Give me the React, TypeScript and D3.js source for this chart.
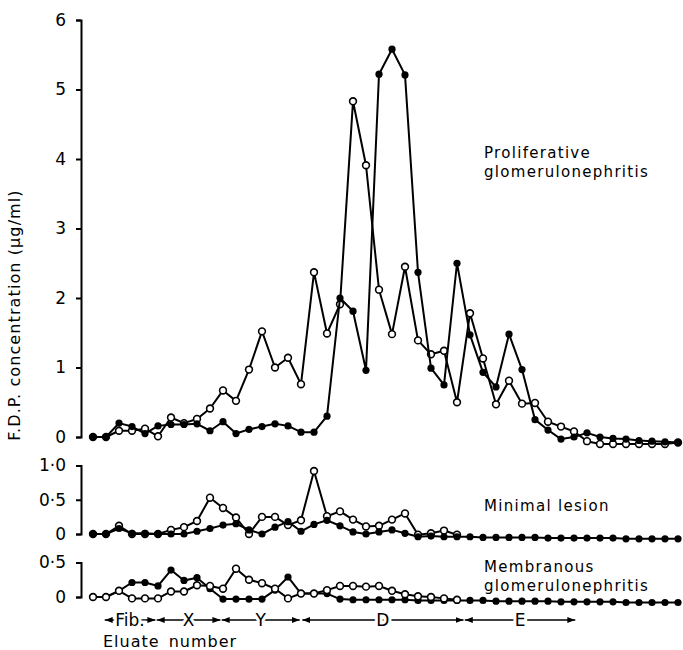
import { useEffect, useRef } from "react";
import * as d3 from "d3";

// eluates 1..46, values (μg/ml)
const prolifFilled = [
  0, 0, 0.2, 0.15, 0.05, 0.16, 0.18, 0.18, 0.19, 0.09, 0.22, 0.05, 0.11, 0.15, 0.19, 0.16,
  0.07, 0.07, 0.3, 2.0, 1.81, 0.96, 5.22, 5.58, 5.21, 2.37, 0.99, 0.75, 2.5, 1.47, 0.93,
  0.72, 1.48, 0.97, 0.25, 0.1, -0.03, 0.0, 0.06, 0.0, -0.02, -0.03, -0.05, -0.06, -0.07, -0.08,
];
const prolifOpen = [
  0, 0, 0.09, 0.09, 0.12, 0.01, 0.28, 0.2, 0.26, 0.41, 0.67, 0.52, 0.97, 1.52, 1.0, 1.14,
  0.76, 2.37, 1.49, 1.91, 4.83, 3.91, 2.12, 1.48, 2.45, 1.39, 1.19, 1.24, 0.5, 1.78, 1.13,
  0.47, 0.81, 0.48, 0.49, 0.22, 0.15, 0.08, -0.06, -0.1, -0.1, -0.1, -0.1, -0.1, -0.1, -0.08,
];
const minimalFilled = [
  0, 0, 0.08, 0.01, 0.01, 0, 0, 0, 0.04, 0.08, 0.13, 0.15, 0.06, 0, 0.1, 0.18,
  0.04, 0.14, 0.2, 0.12, 0.03, 0, 0.03, 0.06, 0.01, -0.04, -0.03, -0.04, -0.04, -0.04, -0.05,
  -0.05, -0.05, -0.05, -0.05, -0.06, -0.06, -0.06, -0.06, -0.06, -0.06, -0.07, -0.07, -0.07, -0.07, -0.07,
];
const minimalOpen = [
  0, 0, 0.12, 0, 0, 0, 0.06, 0.1, 0.19, 0.53, 0.38, 0.24, 0, 0.25, 0.25, 0.13,
  0.2, 0.92, 0.26, 0.33, 0.21, 0.11, 0.12, 0.21, 0.3, -0.01, 0.01, 0.05, -0.01,
];
const membFilled = [
  0, 0, 0.09, 0.21, 0.21, 0.16, 0.39, 0.24, 0.28, 0.12, -0.03, -0.03, -0.03, -0.03, 0.1, 0.29,
  0.05, 0.05, 0.05, -0.03, -0.04, -0.04, -0.04, -0.04, -0.04, -0.05, -0.05, -0.05, -0.05, -0.05, -0.05,
  -0.06, -0.06, -0.06, -0.06, -0.06, -0.07, -0.07, -0.07, -0.07, -0.07, -0.08, -0.08, -0.08, -0.08, -0.08,
];
const membOpen = [
  0, 0, 0.09, -0.02, -0.02, -0.02, 0.08, 0.08, 0.17, 0.16, 0.12, 0.41, 0.25, 0.2, 0.12, -0.02,
  0.05, 0.05, 0.1, 0.16, 0.16, 0.15, 0.16, 0.09, 0.04, 0.01, 0, -0.02, -0.04,
];

const prolifTicks = [0, 1, 2, 3, 4, 5, 6];
const prolifTickLabels = ["0", "1", "2", "3", "4", "5", "6"];
const minimalTicks = [0, 0.5, 1];
const minimalTickLabels = ["0", "0·5", "1·0"];
const membTicks = [0, 0.5];
const membTickLabels = ["0", "0·5"];

// elution fractions along the eluate axis
const fractionNames = ["Fib.", "X", "Y", "D", "E"];
const fractionStart = [1.9, 5.9, 10.9, 17.1, 29.6];
const fractionEnd = [5.8, 10.8, 16.9, 29.5, 38.1];

const FONT = "DejaVu Sans, sans-serif";

function renderChart(el: SVGSVGElement) {
  const svg = d3.select(el);
  svg.selectAll("*").remove();

  const x = d3.scaleLinear().domain([1, 46]).range([93, 678]);
  const axisX = 81;

  const panels = [
    { top: 20, bottom: 437, max: 6, ticks: prolifTicks, labels: prolifTickLabels, filled: prolifFilled, open: prolifOpen, openOnTop: false, title: ["Proliferative", "glomerulonephritis"], titleY: 158 },
    { top: 465.5, bottom: 534, max: 1, ticks: minimalTicks, labels: minimalTickLabels, filled: minimalFilled, open: minimalOpen, openOnTop: false, title: ["Minimal lesion"], titleY: 511 },
    { top: 562.5, bottom: 597, max: 0.5, ticks: membTicks, labels: membTickLabels, filled: membFilled, open: membOpen, openOnTop: true, title: ["Membranous", "glomerulonephritis"], titleY: 572 },
  ];

  panels.forEach((p) => {
    const y = d3.scaleLinear().domain([0, p.max]).range([p.bottom, p.top]);
    const g = svg.append("g");

    const axis = d3
      .axisLeft(y)
      .tickValues(p.ticks)
      .tickFormat((d, i) => p.labels[i])
      .tickSize(5)
      .tickPadding(10);
    const ax = g.append("g").attr("transform", `translate(${axisX},0)`).call(axis);
    ax.select(".domain").attr("stroke", "#000").attr("stroke-width", 2);
    ax.selectAll(".tick line").attr("stroke", "#000").attr("stroke-width", 2);
    ax.selectAll(".tick text")
      .attr("font-family", FONT)
      .attr("font-size", 17)
      .attr("fill", "#000");

    const drawSeries = (values: number[], open: boolean) => {
      const line = d3
        .line<number>()
        .x((d, i) => x(i + 1))
        .y((d) => y(d));
      g.append("path")
        .attr("d", line(values))
        .attr("fill", "none")
        .attr("stroke", "#000")
        .attr("stroke-width", 2)
        .attr("stroke-linejoin", "round");
      g.append("g")
        .selectAll("circle")
        .data(values)
        .join("circle")
        .attr("cx", (d, i) => x(i + 1))
        .attr("cy", (d) => y(d))
        .attr("r", open ? 3.4 : 3.6)
        .attr("fill", open ? "#fff" : "#000")
        .attr("stroke", "#000")
        .attr("stroke-width", open ? 1.6 : 0);
    };

    if (p.openOnTop) {
      drawSeries(p.filled, false);
      drawSeries(p.open, true);
    } else {
      drawSeries(p.open, true);
      drawSeries(p.filled, false);
    }

    const t = g
      .append("text")
      .attr("x", 484)
      .attr("y", p.titleY)
      .attr("font-family", FONT)
      .attr("font-size", 15)
      .attr("letter-spacing", 1.3)
      .attr("fill", "#000");
    p.title.forEach((s, i) => {
      t.append("tspan").attr("x", 484).attr("dy", i === 0 ? 0 : 19).text(s);
    });
  });

  // y axis title
  svg
    .append("text")
    .attr("transform", "translate(20,315) rotate(-90)")
    .attr("text-anchor", "middle")
    .attr("font-family", FONT)
    .attr("font-size", 16)
    .attr("letter-spacing", 1.1)
    .attr("fill", "#000")
    .text("F.D.P. concentration (μg/ml)");

  // fraction arrows
  const defs = svg.append("defs");
  defs
    .append("marker")
    .attr("id", "arr")
    .attr("viewBox", "0 0 8 6")
    .attr("refX", 8)
    .attr("refY", 3)
    .attr("markerWidth", 8)
    .attr("markerHeight", 6)
    .attr("markerUnits", "userSpaceOnUse")
    .attr("orient", "auto-start-reverse")
    .append("path")
    .attr("d", "M0,0L8,3L0,6Z")
    .attr("fill", "#000");

  const rowY = 620;
  const fr = svg.append("g");
  fractionNames.forEach((name, i) => {
    const x0 = x(fractionStart[i]);
    const x1 = x(fractionEnd[i]);
    fr.append("line")
      .attr("x1", x0)
      .attr("x2", x1)
      .attr("y1", rowY)
      .attr("y2", rowY)
      .attr("stroke", "#000")
      .attr("stroke-width", 1.5)
      .attr("marker-start", "url(#arr)")
      .attr("marker-end", "url(#arr)");
    fr.append("text")
      .attr("x", (x0 + x1) / 2)
      .attr("y", rowY + 6)
      .attr("text-anchor", "middle")
      .attr("font-family", FONT)
      .attr("font-size", 17)
      .attr("fill", "#000")
      .attr("stroke", "#fff")
      .attr("stroke-width", 6)
      .attr("paint-order", "stroke")
      .text(name);
  });

  svg
    .append("text")
    .attr("x", 103)
    .attr("y", 647)
    .attr("font-family", FONT)
    .attr("font-size", 16)
    .attr("letter-spacing", 1.0)
    .attr("word-spacing", 3)
    .attr("fill", "#000")
    .text("Eluate number");
}

export default function App() {
  const ref = useRef<SVGSVGElement>(null);
  useEffect(() => {
    if (ref.current) renderChart(ref.current);
  }, []);
  return (
    <svg
      ref={ref}
      width={683}
      height={650}
      style={{ position: "absolute", left: 0, top: 0, background: "#fff" }}
    />
  );
}
